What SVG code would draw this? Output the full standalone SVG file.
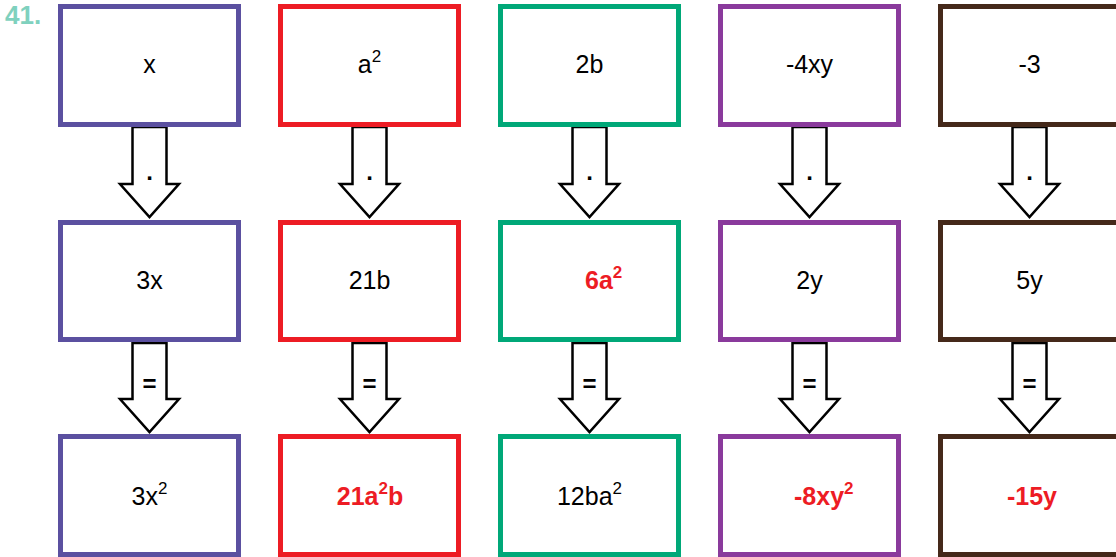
<svg xmlns="http://www.w3.org/2000/svg" width="1116" height="557" viewBox="0 0 1116 557">
<style>
.box{fill:#fff;stroke-width:5}
.c1{stroke:#5b50a0}.c2{stroke:#ed1c24}.c3{stroke:#00a878}.c4{stroke:#8a3a9c}.c5{stroke:#45291a}
.t{font-family:"Liberation Sans",Arial,sans-serif;font-size:25px;fill:#000;text-anchor:middle}
.s{font-size:17px}
.r{fill:#ed1c24;font-weight:bold}
.arr{fill:#fff;stroke:#000;stroke-width:2.5;stroke-linejoin:miter}
.lab{font-family:"Liberation Sans",Arial,sans-serif;font-size:24px;font-weight:bold;fill:#000;text-anchor:middle}
</style>
<rect width="1116" height="557" fill="#fff"/>
<text x="5" y="24" style="font-family:'Liberation Sans',Arial,sans-serif;font-size:26px;font-weight:bold;fill:#7fd1be">41.</text>
<g id="connectors">
<polygon class="arr" points="132.5,127 166.5,127 166.5,184 179,184 149.5,217 120,184 132.5,184"/>
<polygon class="arr" points="132.5,343 166.5,343 166.5,399 179,399 149.5,432 120,399 132.5,399"/>
<polygon class="arr" points="352.5,127 386.5,127 386.5,184 399,184 369.5,217 340,184 352.5,184"/>
<polygon class="arr" points="352.5,343 386.5,343 386.5,399 399,399 369.5,432 340,399 352.5,399"/>
<polygon class="arr" points="572.5,127 606.5,127 606.5,184 619,184 589.5,217 560,184 572.5,184"/>
<polygon class="arr" points="572.5,343 606.5,343 606.5,399 619,399 589.5,432 560,399 572.5,399"/>
<polygon class="arr" points="792.5,127 826.5,127 826.5,184 839,184 809.5,217 780,184 792.5,184"/>
<polygon class="arr" points="792.5,343 826.5,343 826.5,399 839,399 809.5,432 780,399 792.5,399"/>
<polygon class="arr" points="1012.5,127 1046.5,127 1046.5,184 1059,184 1029.5,217 1000,184 1012.5,184"/>
<polygon class="arr" points="1012.5,343 1046.5,343 1046.5,399 1059,399 1029.5,432 1000,399 1012.5,399"/>
<text class="lab" x="149.5" y="180">.</text><text class="lab" x="149.5" y="392">=</text>
<text class="lab" x="369.5" y="180">.</text><text class="lab" x="369.5" y="392">=</text>
<text class="lab" x="589.5" y="180">.</text><text class="lab" x="589.5" y="392">=</text>
<text class="lab" x="809.5" y="180">.</text><text class="lab" x="809.5" y="392">=</text>
<text class="lab" x="1029.5" y="180">.</text><text class="lab" x="1029.5" y="392">=</text>
</g>
<g id="n1a"><rect class="box c1" x="60.5" y="6.5" width="178" height="118"/><text class="t" x="149.5" y="73">x</text></g>
<g id="n1b"><rect class="box c1" x="60.5" y="222.5" width="178" height="117"/><text class="t" x="149.5" y="289">3x</text></g>
<g id="n1c"><rect class="box c1" x="60.5" y="436.5" width="178" height="118"/><text class="t" x="149.5" y="505">3x<tspan class="s" dy="-11">2</tspan></text></g>
<g id="n2a"><rect class="box c2" x="280.5" y="6.5" width="178" height="118"/><text class="t" x="369.5" y="73">a<tspan class="s" dy="-11">2</tspan></text></g>
<g id="n2b"><rect class="box c2" x="280.5" y="222.5" width="178" height="117"/><text class="t" x="369.5" y="289">21b</text></g>
<g id="n2c"><rect class="box c2" x="280.5" y="436.5" width="178" height="118"/><text class="t r" x="370" y="505">21a<tspan class="s" dy="-11">2</tspan><tspan dy="11">b</tspan></text></g>
<g id="n3a"><rect class="box c3" x="500.5" y="6.5" width="178" height="118"/><text class="t" x="589.5" y="73">2b</text></g>
<g id="n3b"><rect class="box c3" x="500.5" y="222.5" width="178" height="117"/><text class="t r" x="585" y="289" style="text-anchor:start">6a<tspan class="s" dy="-11">2</tspan></text></g>
<g id="n3c"><rect class="box c3" x="500.5" y="436.5" width="178" height="118"/><text class="t" x="589.5" y="505">12ba<tspan class="s" dy="-11">2</tspan></text></g>
<g id="n4a"><rect class="box c4" x="720.5" y="6.5" width="178" height="118"/><text class="t" x="809.5" y="73">-4xy</text></g>
<g id="n4b"><rect class="box c4" x="720.5" y="222.5" width="178" height="117"/><text class="t" x="809.5" y="289">2y</text></g>
<g id="n4c"><rect class="box c4" x="720.5" y="436.5" width="178" height="118"/><text class="t r" x="794" y="505" style="text-anchor:start">-8xy<tspan class="s" dy="-11">2</tspan></text></g>
<g id="n5a"><rect class="box c5" x="940.5" y="6.5" width="178" height="118"/><text class="t" x="1029.5" y="73">-3</text></g>
<g id="n5b"><rect class="box c5" x="940.5" y="222.5" width="178" height="117"/><text class="t" x="1029.5" y="289">5y</text></g>
<g id="n5c"><rect class="box c5" x="940.5" y="436.5" width="178" height="118"/><text class="t r" x="1032" y="505">-15y</text></g>
</svg>
